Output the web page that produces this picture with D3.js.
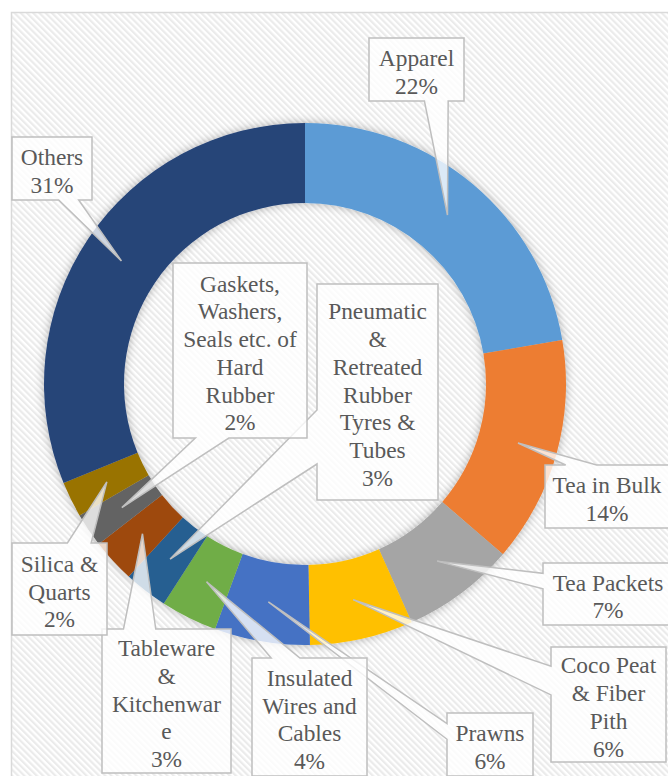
<!DOCTYPE html>
<html>
<head>
<meta charset="utf-8">
<script src="https://cdn.jsdelivr.net/npm/d3@7"></script>
<style>
  body { margin: 0; background: #fff; }
  svg { display: block; }
</style>
</head>
<body>
<div id="chart"></div>
<script>
// export shares (clockwise from 12 o'clock)
const categories = [
    "Apparel", "Tea in Bulk", "Tea Packets", "Coco Peat & Fiber Pith", "Prawns",
    "Insulated Wires and Cables", "Pneumatic & Retreated Rubber Tyres & Tubes",
    "Tableware & Kitchenware", "Gaskets, Washers, Seals etc. of Hard Rubber",
    "Silica & Quarts", "Others"
];
const shares = [22.3, 14.0, 7.0, 6.4, 5.9, 3.5, 2.7, 2.7, 2.1, 2.2, 31.2];
const sliceColors = [
    "#5B9BD5", "#ED7D31", "#A5A5A5", "#FFC000", "#4472C4", "#70AD47",
    "#255E91", "#9E480E", "#636363", "#997300", "#264478"
];

// callout boxes placed by hand (like the original), with their wrapped name lines
const labelBoxes = [
    { x: 369, y: 38,  w: 95,  h: 63,  lines: ["Apparel"] },
    { x: 545, y: 465, w: 124, h: 63,  lines: ["Tea in Bulk"] },
    { x: 543, y: 563, w: 130, h: 62,  lines: ["Tea Packets"] },
    { x: 551, y: 647, w: 115, h: 115, lines: ["Coco Peat", "& Fiber", "Pith"] },
    { x: 447, y: 713, w: 86,  h: 63,  lines: ["Prawns"] },
    { x: 252, y: 658, w: 115, h: 118, lines: ["Insulated", "Wires and", "Cables"] },
    { x: 317, y: 284, w: 121, h: 216, lines: ["Pneumatic", "&", "Retreated", "Rubber", "Tyres &", "Tubes"] },
    { x: 102, y: 629, w: 129, h: 144, lines: ["Tableware", "&", "Kitchenwar", "e"] },
    { x: 173, y: 263, w: 134, h: 175, lines: ["Gaskets,", "Washers,", "Seals etc. of", "Hard", "Rubber"] },
    { x: 12,  y: 543, w: 95,  h: 92,  lines: ["Silica &", "Quarts"] },
    { x: 12,  y: 137, w: 80,  h: 63,  lines: ["Others"] }
];

const width = 668, height = 776;
const cx = 305, cy = 384;
const outerR = 261, innerR = 181;
const lineH = 27.7;

const svg = d3.select("#chart").append("svg")
    .attr("width", width)
    .attr("height", height);

const defs = svg.append("defs");

// diagonal hatch of the chart area
const hatch = defs.append("pattern")
    .attr("id", "hatch")
    .attr("patternUnits", "userSpaceOnUse")
    .attr("width", 4.4)
    .attr("height", 4.4)
    .attr("patternTransform", "rotate(-45)");
hatch.append("rect").attr("width", 4.4).attr("height", 4.4).attr("fill", "#fff");
hatch.append("rect").attr("width", 2.2).attr("height", 4.4).attr("fill", "#ebebeb");

const shadow = defs.append("filter")
    .attr("id", "shadow")
    .attr("x", "-20%").attr("y", "-20%")
    .attr("width", "140%").attr("height", "140%");
shadow.append("feDropShadow")
    .attr("dx", 0).attr("dy", 0)
    .attr("stdDeviation", 5)
    .attr("flood-color", "#000")
    .attr("flood-opacity", 0.3);

// chart area
svg.append("rect")
    .attr("x", 11.5)
    .attr("y", 12.5)
    .attr("width", 700)
    .attr("height", 800)
    .attr("fill", "url(#hatch)")
    .attr("stroke", "#d9d9d9")
    .attr("stroke-width", 1.5);

const pie = d3.pie().sort(null).value(d => d)(shares);
const arc = d3.arc().innerRadius(innerR).outerRadius(outerR);

const g = svg.append("g").attr("transform", `translate(${cx},${cy})`);

g.append("g")
    .attr("filter", "url(#shadow)")
    .selectAll("path")
    .data(pie)
    .enter()
    .append("path")
    .attr("d", arc)
    .attr("fill", (d, i) => sliceColors[i]);

// Excel-style wedge callout (wedgeRectCallout geometry)
function wedgePath(b, tip) {
    const l = b.x, t = b.y, r = b.x + b.w, bt = b.y + b.h;
    const dx = tip[0] - (l + b.w / 2);
    const dy = tip[1] - (t + b.h / 2);
    const dz = Math.abs(dy) - Math.abs(dx) * b.h / b.w;
    const x1 = l + b.w * (dx > 0 ? 7 : 2) / 12, x2 = l + b.w * (dx > 0 ? 10 : 5) / 12;
    const y1 = t + b.h * (dy > 0 ? 7 : 2) / 12, y2 = t + b.h * (dy > 0 ? 10 : 5) / 12;
    const side = dz > 0 ? (dy < 0 ? "top" : "bottom") : (dx < 0 ? "left" : "right");

    const pts = [[l, t]];
    if (side === "top") pts.push([x1, t], tip, [x2, t]);
    pts.push([r, t]);
    if (side === "right") pts.push([r, y1], tip, [r, y2]);
    pts.push([r, bt]);
    if (side === "bottom") pts.push([x2, bt], tip, [x1, bt]);
    pts.push([l, bt]);
    if (side === "left") pts.push([l, y2], tip, [l, y1]);
    return d3.line()(pts) + "Z";
}

const labels = svg.append("g").attr("class", "labels");

pie.forEach((d, i) => {
    const b = labelBoxes[i];
    const c = arc.centroid(d);
    const tip = [cx + c[0], cy + c[1]];

    labels.append("path")
        .attr("d", wedgePath(b, tip))
        .attr("fill", "#fff")
        .attr("fill-opacity", 0.78)
        .attr("stroke", "#bfbfbf")
        .attr("stroke-width", 1.5)
        .attr("stroke-linejoin", "miter");

    const lines = b.lines.concat([`${Math.round(shares[i])}%`]);
    const firstBase = b.y + b.h / 2 - (lines.length - 1) * lineH / 2 + 10.5;

    const text = labels.append("text")
        .attr("text-anchor", "middle")
        .attr("font-family", "'Liberation Serif', 'Times New Roman', serif")
        .attr("font-size", "23.4px")
        .attr("fill", "#595959");

    lines.forEach((ln, k) => {
        text.append("tspan")
            .attr("x", b.x + b.w / 2)
            .attr("y", firstBase + k * lineH)
            .text(ln);
    });
});
</script>
</body>
</html>
